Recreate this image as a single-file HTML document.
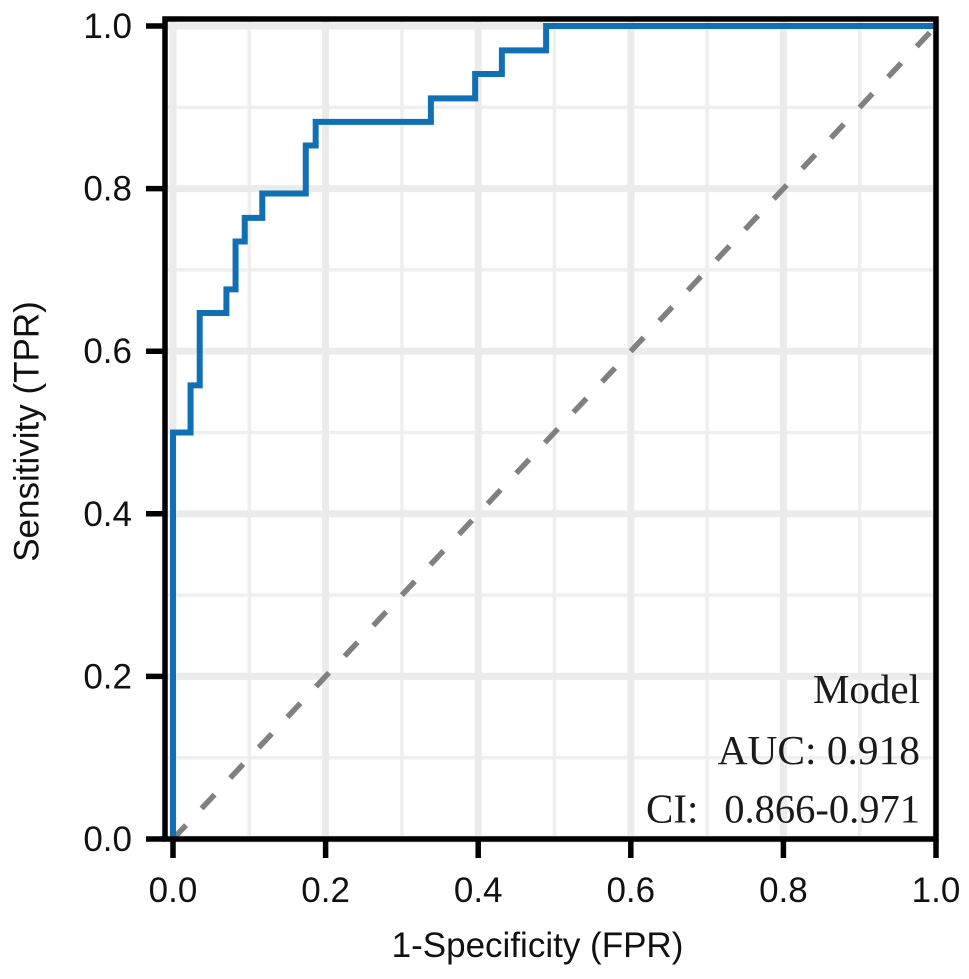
<!DOCTYPE html>
<html>
<head>
<meta charset="utf-8">
<title>ROC curve</title>
<style>
html,body{margin:0;padding:0;background:#fff;width:969px;height:979px;overflow:hidden}
svg{display:block}
.tick{font-family:"Liberation Sans",Arial,sans-serif;font-size:35px;fill:#111}
.axis{font-family:"Liberation Sans",Arial,sans-serif;font-size:35px;fill:#111}
.note{font-family:"Liberation Serif","Times New Roman",serif;font-size:41px;fill:#1a1a1a}
</style>
</head>
<body>
<svg id="chart" xmlns="http://www.w3.org/2000/svg" width="969" height="979" viewBox="0 0 969 979">
  <g id="grid"></g>
  <g id="series"></g>
  <g id="axes"></g>
  <text class="axis" x="537.5" y="957" text-anchor="middle">1-Specificity (FPR)</text>
  <text class="axis" transform="translate(38.5,431.5) rotate(-90)" text-anchor="middle">Sensitivity (TPR)</text>
  <text class="note" x="920" y="703" text-anchor="end">Model</text>
  <text class="note" style="font-size:41.4px" x="920" y="764" text-anchor="end">AUC: 0.918</text>
  <text class="note" x="646" y="822.5">CI:</text>
  <text class="note" style="font-size:40.5px" x="920" y="822.5" text-anchor="end">0.866-0.971</text>
</svg>
<script>
const fprValues = [0, 0, 0.023, 0.023, 0.035, 0.035, 0.070, 0.070, 0.082, 0.082, 0.094, 0.094, 0.117, 0.117, 0.174, 0.174, 0.187, 0.187, 0.338, 0.338, 0.396, 0.396, 0.431, 0.431, 0.489, 0.489, 1];
const tprValues = [0, 0.5, 0.5, 0.558, 0.558, 0.647, 0.647, 0.676, 0.676, 0.735, 0.735, 0.764, 0.764, 0.794, 0.794, 0.853, 0.853, 0.882, 0.882, 0.911, 0.911, 0.941, 0.941, 0.97, 0.97, 1, 1];
const chanceX = [0, 1];
const chanceY = [0, 1];
const majorTicks = [0, 0.2, 0.4, 0.6, 0.8, 1];
const tickLabels = ['0.0', '0.2', '0.4', '0.6', '0.8', '1.0'];
const minorTicks = [0.1, 0.3, 0.5, 0.7, 0.9];

const NS = 'http://www.w3.org/2000/svg';
function xScale(v) { return 173 + v * 763; }
function yScale(v) { return 839 - v * 813; }
function make(tag, attrs, parent) {
  const el = document.createElementNS(NS, tag);
  for (const k in attrs) el.setAttribute(k, attrs[k]);
  parent.appendChild(el);
  return el;
}
const grid = document.getElementById('grid');
const series = document.getElementById('series');
const axes = document.getElementById('axes');

minorTicks.forEach(function (t) {
  const v = make('line', { x1: xScale(t), x2: xScale(t), y1: 20, y2: 837, stroke: '#efefef', 'stroke-width': 3.5 }, grid);
  
  
  const h = make('line', { x1: 167, x2: 934, y1: yScale(t), y2: yScale(t), stroke: '#efefef', 'stroke-width': 3.5 }, grid);
  
  
});
majorTicks.forEach(function (t) {
  const v = make('line', { x1: xScale(t), x2: xScale(t), y1: 20, y2: 837, stroke: '#ebebeb', 'stroke-width': 7 }, grid);
  
  
  const h = make('line', { x1: 167, x2: 934, y1: yScale(t), y2: yScale(t), stroke: '#ebebeb', 'stroke-width': 7 }, grid);
  
  
});

const diag = make('line', {
  x1: xScale(chanceX[0]), y1: yScale(chanceY[0]), x2: xScale(chanceX[1]), y2: yScale(chanceY[1]),
  stroke: '#808080', 'stroke-width': 5.5, 'stroke-dasharray': '19 22.8'
}, series);



const pts = fprValues.map(function (x, i) { return xScale(x) + ',' + yScale(tprValues[i]); }).join(' ');
const curve = make('polyline', { points: pts, fill: 'none', stroke: '#1170b4', 'stroke-width': 6, 'stroke-linejoin': 'miter' }, series);



const frame = make('rect', { x: 165, y: 19, width: 771, height: 820, fill: 'none', stroke: '#000', 'stroke-width': 5.5 }, axes);



majorTicks.forEach(function (t, i) {
  const tx = make('line', { x1: xScale(t), x2: xScale(t), y1: 839, y2: 858, stroke: '#000', 'stroke-width': 5.5 }, axes);
  
  
  const ty = make('line', { x1: 146, x2: 165, y1: yScale(t), y2: yScale(t), stroke: '#000', 'stroke-width': 5.5 }, axes);
  
  
  const lx = make('text', { class: 'tick', x: xScale(t), y: 902, 'text-anchor': 'middle' }, axes);
  lx.textContent = tickLabels[i];
  
  
  const ly = make('text', { class: 'tick', x: 132, y: yScale(t) + 12, 'text-anchor': 'end' }, axes);
  ly.textContent = tickLabels[i];
  
  
});
</script>
</body>
</html>
